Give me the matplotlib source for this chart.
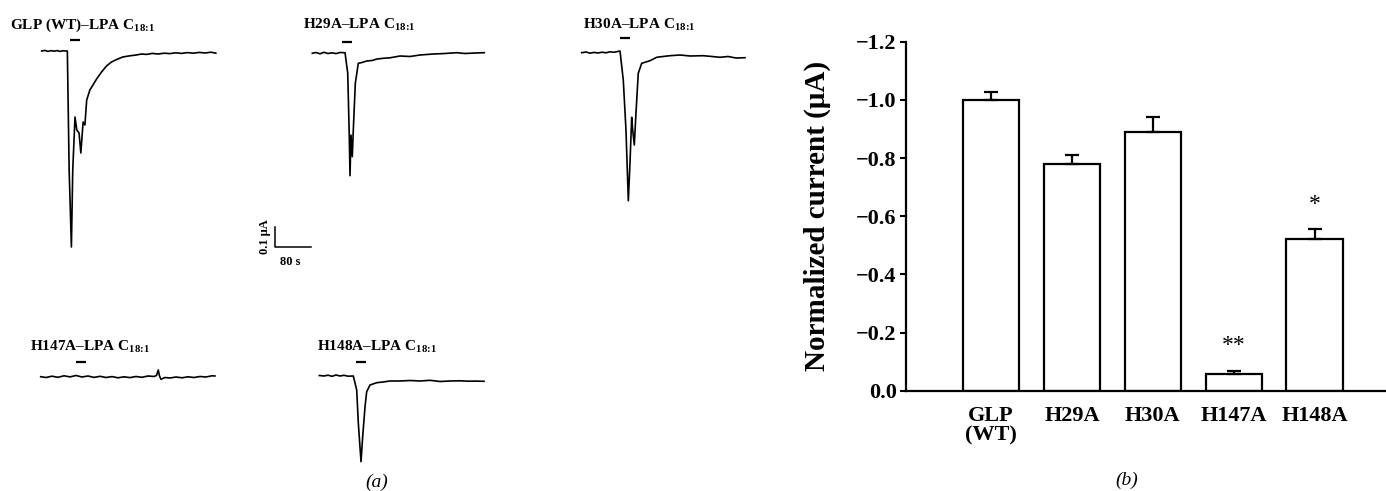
import matplotlib
matplotlib.use('Agg')
import matplotlib.pyplot as plt
import numpy as np

plt.rcParams['font.family'] = ['Liberation Serif', 'DejaVu Serif']
plt.rcParams['mathtext.fontset'] = 'custom'
plt.rcParams['mathtext.rm'] = 'Liberation Serif'
plt.rcParams['mathtext.bf'] = 'Liberation Serif:bold'
plt.rcParams['mathtext.it'] = 'Liberation Serif:italic'

# ---- panel (a): current traces, time in s from trace start, current in uA vs baseline ----
trace_names = ['GLP (WT)', 'H29A', 'H30A', 'H147A', 'H148A']

t_wt = [0, 7, 14, 21, 27, 34, 41, 47, 57, 61, 66, 69, 74, 78, 83, 87, 92, 96, 100, 107,
        122, 133, 144, 155, 167, 180, 196, 210, 222, 233, 246, 259, 272, 285, 298, 311,
        324, 337, 350, 363, 376, 387]
i_wt = [0, 0.003, -0.002, 0.002, -0.001, 0.002, -0.002, 0.001, 0, -0.595, -0.98, -0.595,
        -0.33, -0.395, -0.41, -0.51, -0.355, -0.37, -0.245, -0.195, -0.14, -0.105, -0.075,
        -0.055, -0.042, -0.03, -0.024, -0.02, -0.015, -0.017, -0.012, -0.015, -0.011, -0.013,
        -0.009, -0.012, -0.008, -0.011, -0.007, -0.01, -0.006, -0.011]

t_h29 = [0, 8.2, 17.1, 26, 34.9, 43.8, 52.7, 61.6, 72.7, 78.7, 82.2, 83.8, 86, 88.9, 91.1,
         95.6, 102.2, 110.4, 120.9, 132.7, 143.8, 157.8, 172.7, 194.9, 217.1, 239.3, 268.9,
         294.9, 320.9, 339.3, 361.6, 382.2]
i_h29 = [0, 0.004, -0.0025, 0.005, -0.001, 0.0025, -0.0015, 0.004, 0.003, -0.0985, -0.417,
         -0.612, -0.409, -0.517, -0.384, -0.15, -0.05, -0.046, -0.0385, -0.036, -0.0285,
         -0.025, -0.0225, -0.0135, -0.016, -0.0085, -0.0035, -0.001, 0.003, -0.001, 0.0015,
         0.003]

t_h30 = [0, 9.6, 18.4, 27.3, 36.2, 45.1, 53.9, 62.8, 71.7, 85.1, 92.4, 98.4, 103.6, 107.3,
         111.1, 113.3, 116.9, 120.6, 125.7, 133.3, 151.8, 166.7, 180.7, 196.2, 218.4, 240.7,
         270.2, 289.6, 307.3, 325.1, 342.9, 362.9]
i_h30 = [0, 0.0035, -0.0025, 0.0015, -0.0015, 0.0025, -0.0005, 0.0045, 0.002, 0.0085,
         -0.1365, -0.3865, -0.74, -0.5515, -0.323, -0.3865, -0.4615, -0.303, -0.103, -0.053,
         -0.04, -0.023, -0.019, -0.015, -0.0115, -0.0165, -0.015, -0.019, -0.023, -0.019,
         -0.0265, -0.025]

t_h147 = [0, 11.8, 25.1, 38.4, 51.8, 65.1, 78.4, 91.8, 105.1, 118.4, 131.8, 145.1, 158.4,
          171.8, 185.1, 198.4, 211.8, 225.1, 238.4, 251.8, 257.3, 261.3, 264, 267.3, 276.2,
          287.3, 300.7, 314, 327.3, 340.7, 354, 367.3, 380.7, 387.3]
i_h147 = [0, -0.004, 0.0025, -0.003, 0.0045, -0.001, 0.006, -0.0015, 0.0035, -0.0035, 0.002,
          -0.004, 0.0005, -0.0055, -0.0005, -0.0045, 0.001, -0.003, 0.0035, 0.001, 0.006,
          0.0335, 0.0035, -0.013, -0.004, -0.0065, -0.0015, -0.0055, -0.0005, -0.004, 0.001,
          -0.0015, 0.0045, 0.0035]

t_h148 = [0, 10.4, 19.3, 28.2, 37.1, 46, 54.9, 63.8, 75.6, 83.1, 86.7, 92.7, 96.4, 101.6,
          105.3, 112.7, 127.6, 141.6, 157.1, 179.3, 201.6, 223.8, 246, 268.3, 290.5, 312.7,
          330.5, 348, 366]
i_h148 = [0, -0.0025, 0.0015, -0.004, 0.0025, -0.0025, 0.001, -0.0035, -0.0025, -0.0725,
          -0.2375, -0.431, -0.306, -0.156, -0.081, -0.0475, -0.036, -0.0325, -0.0275, -0.0275,
          -0.025, -0.0275, -0.024, -0.03, -0.0275, -0.0265, -0.0285, -0.028, -0.029]

traces_t = [t_wt, t_h29, t_h30, t_h147, t_h148]
traces_i = [i_wt, i_h29, i_h30, i_h147, i_h148]

# LPA application: start (s from trace start) and duration (s)
stim_start = [62.9, 66.7, 85.1, 78.4, 81.5]
stim_dur = 22

# ---- panel (b): normalized peak current ----
groups = ['GLP\n(WT)', 'H29A', 'H30A', 'H147A', 'H148A']
mean_current = [-1.00, -0.78, -0.89, -0.056, -0.52]
sem_current = [0.026, 0.032, 0.051, 0.013, 0.035]
signif = ['', '', '', '**', '*']

# layout for panel (a), in figure pixels
origin_px = [(41.7, 51), (312.3, 53.3), (581.7, 52.7), (40.7, 376.7), (319.3, 375.5)]
title_px = [(10, 29), (303, 29), (583, 29.3), (30, 350.7), (316.7, 351)]
stim_up_px = [11, 11.6, 15, 15, 13.8]

W, H = 1386, 491
fig = plt.figure(figsize=(W / 100, H / 100), dpi=100)

sx = 80 / 36     # s per px
sy = 0.1 / 20    # uA per px
ax_a = fig.add_axes([0, 0, 800 / W, 1])
ax_a.set_xlim(0, 800 * sx)
ax_a.set_ylim(-H * sy, 0)
ax_a.axis('off')

for k in range(5):
    x0 = origin_px[k][0] * sx
    y0 = -origin_px[k][1] * sy
    t = np.array(traces_t[k])
    cur = np.array(traces_i[k])
    ax_a.plot(x0 + t, y0 + cur, color='black', lw=1.2, solid_joinstyle='round')
    ys = y0 + stim_up_px[k] * sy
    ax_a.plot([x0 + stim_start[k], x0 + stim_start[k] + stim_dur], [ys, ys],
              color='black', lw=1.6, solid_capstyle='butt')
    tx, ty = title_px[k]
    ax_a.text(tx * sx, -ty * sy, trace_names[k] + '–LPA C$_{\\mathbf{18\\!:\\!1}}$',
              fontsize=11, fontweight='bold', ha='left', va='baseline')

# scale bar
sb_x, sb_y = 275 * sx, -246.7 * sy
ax_a.plot([sb_x, sb_x, sb_x + 80], [sb_y + 0.1, sb_y, sb_y], color='black', lw=1.1)
ax_a.text(sb_x - 10 * sx, sb_y + 0.05, '0.1 μA', rotation=90, fontsize=9,
          fontweight='bold', ha='center', va='center')
ax_a.text(sb_x + 15 * sx, sb_y - 15 * sy, '80 s', fontsize=9, fontweight='bold',
          ha='center', va='center')

fig.text(377 / W, 1 - 482 / H, '(a)', fontsize=14, style='italic', ha='center', va='center')

# ---- bar chart ----
left, right, top, bottom = 905.7, 1386, 41.7, 390.7
ax_b = fig.add_axes([left / W, 1 - bottom / H, (right - left) / W, (bottom - top) / H])
x = np.arange(len(groups))
ax_b.bar(x, mean_current, width=0.7, color='white', edgecolor='black', linewidth=1.6,
         zorder=2)
ax_b.errorbar(x, mean_current, yerr=[sem_current, np.zeros(len(x))], fmt='none',
              ecolor='black', elinewidth=1.6, capsize=5, capthick=1.6, zorder=3)
for xi, m, s, lab in zip(x, mean_current, sem_current, signif):
    if lab:
        ax_b.text(xi, m - s - 0.085, lab, fontsize=17, ha='center', va='center')

ax_b.set_xlim(-1.054, 4.88)
ax_b.set_ylim(0, -1.2)
ax_b.set_yticks(np.arange(0, -1.21, -0.2))
ax_b.set_yticklabels(['%.1f' % abs(v) if v == 0 else '−%.1f' % abs(v)
                      for v in np.arange(0, -1.21, -0.2)])
ax_b.set_xticks(x)
ax_b.set_xticklabels(groups, linespacing=1.0)
for lab in ax_b.get_xticklabels() + ax_b.get_yticklabels():
    lab.set_fontweight('bold')
    lab.set_fontsize(16)
for lab in ax_b.get_xticklabels():
    lab.set_verticalalignment('top')
    lab.set_horizontalalignment('center')
ax_b.tick_params(axis='x', length=0, pad=11)
ax_b.tick_params(axis='y', direction='out', length=4.5, width=1.5, pad=2)
for s in ['top', 'right']:
    ax_b.spines[s].set_visible(False)
for s in ['left', 'bottom']:
    ax_b.spines[s].set_linewidth(1.6)
ax_b.set_ylabel('Normalized current (μA)', fontsize=21, fontweight='bold')
ax_b.yaxis.set_label_coords((831 - left) / (right - left), 0.5)

fig.text(1127 / W, 1 - 480 / H, '(b)', fontsize=14, style='italic', ha='center', va='center')

fig.savefig('out.png', dpi=100)
